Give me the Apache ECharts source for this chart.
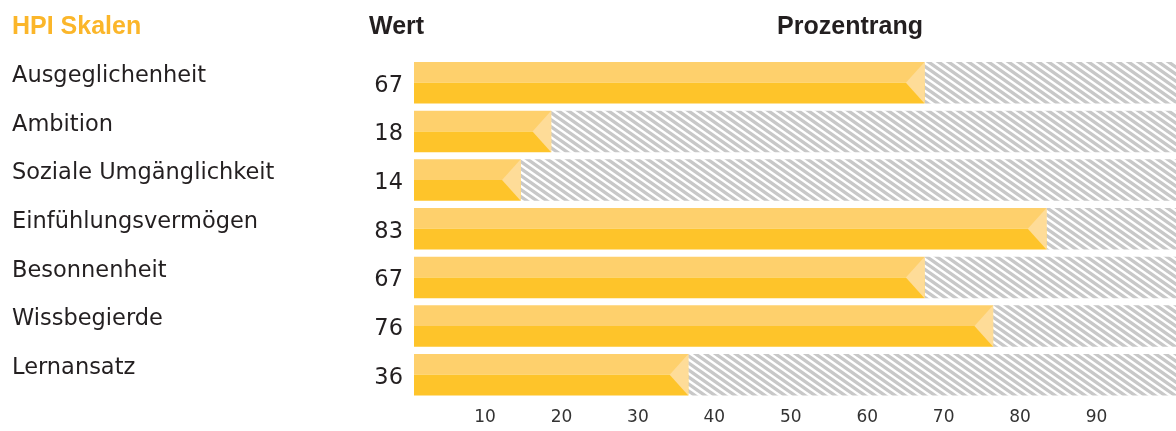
<!DOCTYPE html>
<html>
<head>
<meta charset="utf-8">
<script src="https://cdn.jsdelivr.net/npm/echarts@6/dist/echarts.min.js"></script>
<style>
html,body{margin:0;padding:0;background:#fff;}
#chart{width:1176px;height:431px;}
</style>
</head>
<body>
<div id="chart"></div>
<script>
const categories = ['Ausgeglichenheit','Ambition','Soziale Umgänglichkeit','Einfühlungsvermögen','Besonnenheit','Wissbegierde','Lernansatz'];
const werte = [67, 18, 14, 83, 67, 76, 36];
const tickLabels = [10, 20, 30, 40, 50, 60, 70, 80, 90];
const headers = { skalen: 'HPI Skalen', wert: 'Wert', rang: 'Prozentrang' };

// hatch pattern tile
function makeHatch(){
  const w = 10, h = 7;
  const c = document.createElement('canvas');
  c.width = w; c.height = h;
  const ctx = c.getContext('2d');
  ctx.fillStyle = '#ffffff';
  ctx.fillRect(0,0,w,h);
  ctx.strokeStyle = '#c8c8c8';
  ctx.lineWidth = 3.4;
  [-w, 0, w].forEach(function(dx){
    ctx.beginPath();
    ctx.moveTo(dx - w, -h);
    ctx.lineTo(dx + 2*w, 2*h);
    ctx.stroke();
  });
  return c;
}
const hatch = makeHatch();

const chart = echarts.init(document.getElementById('chart'), null, {renderer:'canvas'});
const FONT = '"Liberation Sans", Arial, sans-serif';
const BODY = '"DejaVu Sans", sans-serif';

function renderItem(params, api){
  const v = api.value(0);
  const idx = api.value(1);
  const s = api.coord([0, idx]);
  const e = api.coord([v, idx]);
  const f = api.coord([100, idx]);
  const band = api.size([0, 1])[1];
  const h = band * 0.852;
  const top = s[1] - h / 2;
  const half = h / 2;
  const tip = h * 0.45;
  return {
    type: 'group',
    children: [
      {type:'rect', shape:{x:e[0], y:top, width:f[0]-e[0], height:h}, style:{fill:{image:hatch, repeat:'repeat'}}},
      {type:'rect', shape:{x:s[0], y:top, width:e[0]-s[0], height:half}, style:{fill:'#fed06c'}},
      {type:'rect', shape:{x:s[0], y:top+half, width:e[0]-s[0], height:h-half}, style:{fill:'#fec42a'}},
      {type:'polygon', shape:{points:[[e[0]-tip, s[1]], [e[0], top], [e[0], top+h]]}, style:{fill:'#fedc98'}}
    ]
  };
}

const option = {
  animation: false,
  backgroundColor: '#ffffff',
  title: [
    {text: headers.skalen, left: 7, top: 10, textStyle:{fontFamily:FONT, fontSize:25, fontWeight:'bold', color:'#fbb62a'}},
    {text: headers.wert, left: 364, top: 10, textStyle:{fontFamily:FONT, fontSize:25, fontWeight:'bold', color:'#231f20'}},
    {text: headers.rang, left: 845, textAlign:'center', top: 10, textStyle:{fontFamily:FONT, fontSize:25, fontWeight:'bold', color:'#231f20'}}
  ],
  grid: [
    {left: 414, top: 58.4, width: 767, height: 340.7},
    {left: 408.6, top: 399, width: 776, height: 1}
  ],
  xAxis: [
    {type:'value', gridIndex:0, min:0, max:100, show:false},
    {type:'value', gridIndex:1, min:0, max:100, interval:10,
     axisLine:{show:false}, axisTick:{show:false}, splitLine:{show:false},
     axisLabel:{margin:9, fontFamily:BODY, fontSize:17, color:'#333333',
       formatter: function(v){ return tickLabels.indexOf(v) >= 0 ? String(v) : ''; }}}
  ],
  yAxis: [
    {type:'category', gridIndex:0, data:categories, inverse:true, position:'left',
     axisLine:{show:false}, axisTick:{show:false}, splitLine:{show:false},
     axisLabel:{align:'left', margin:402, fontFamily:BODY, fontSize:22.5, color:'#231f20', lineHeight:13,
       formatter: function(v){ return v + '\n'; }}},
    {type:'category', gridIndex:0, data:werte.map(String), inverse:true, position:'left',
     axisLine:{show:false}, axisTick:{show:false}, splitLine:{show:false},
     axisLabel:{align:'right', margin:11, fontFamily:BODY, fontSize:22.5, color:'#231f20', lineHeight:6,
       formatter: function(v){ return '\n' + v; }}},
    {type:'value', gridIndex:1, show:false}
  ],
  series: [
    {type:'custom', xAxisIndex:0, yAxisIndex:0, renderItem: renderItem,
     encode:{x:0, y:1}, data: werte.map(function(v, i){ return [v, i]; })}
  ]
};
chart.setOption(option);
</script>
</body>
</html>
